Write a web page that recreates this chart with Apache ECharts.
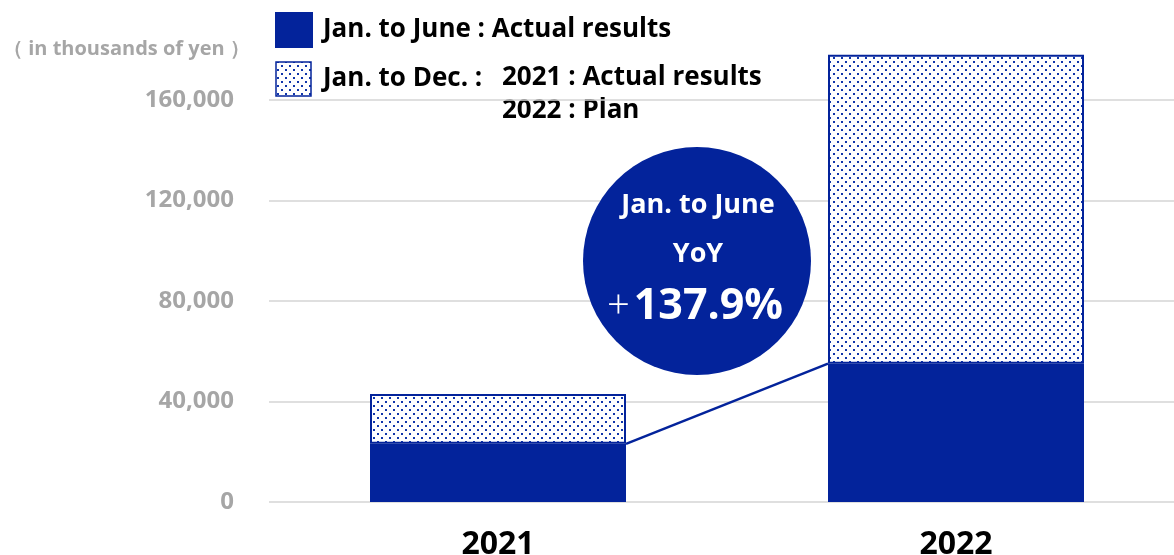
<!DOCTYPE html>
<html>
<head>
<meta charset="utf-8">
<script src="https://cdn.jsdelivr.net/npm/echarts@6/dist/echarts.min.js"></script>
<style>
  html, body { margin: 0; padding: 0; background: #fff; }
  #chart { width: 1174px; height: 555px; }
</style>
</head>
<body>
<div id="chart"></div>
<script>
// Sales, in thousands of yen
const categories = ['2021', '2022'];
const firstHalf = [23150, 55070];      // Jan. to June : actual results
const fullYear = [43000, 178000];      // Jan. to Dec. : 2021 actual, 2022 plan
const yoyLabel = '137.9%';

const remainder = fullYear.map((v, i) => v - firstHalf[i]);

const BLUE = '#03239B';
const FONT = '"Open Sans", Lato, sans-serif';
const BAR_W = 256;

// dotted fill tile
function dotPattern() {
  const c = document.createElement('canvas');
  c.width = 8; c.height = 8;
  const g = c.getContext('2d');
  g.fillStyle = '#ffffff';
  g.fillRect(0, 0, 8, 8);
  g.fillStyle = '#1035aa';
  g.fillRect(1, 1, 2, 2);
  g.fillRect(5, 5, 2, 2);
  return c;
}
const dots = { image: dotPattern(), repeat: 'repeat' };

const chart = echarts.init(document.getElementById('chart'));

chart.setOption({
  animation: false,
  grid: { left: 269, right: -11, top: 100, bottom: 53, outerBoundsMode: 'none', containLabel: false },
  xAxis: {
    type: 'category',
    data: categories,
    axisLine: { show: false },
    axisTick: { show: false },
    axisLabel: {
      color: '#000', fontSize: 32, fontWeight: 'bold', fontFamily: FONT, margin: 27
    }
  },
  yAxis: {
    type: 'value',
    min: 0,
    max: 160000,
    interval: 40000,
    axisLine: { show: false },
    axisTick: { show: false },
    axisLabel: {
      color: '#a6a6a6', fontSize: 24, fontWeight: 'bold', fontFamily: FONT, margin: 35,
      formatter: v => v.toLocaleString('en-US')
    },
    splitLine: { lineStyle: { color: '#d4d4d4', width: 1.5 } }
  },
  series: [
    {
      name: 'Jan. to June',
      type: 'bar',
      stack: 'total',
      barWidth: BAR_W,
      clip: false,
      silent: true,
      itemStyle: { color: BLUE },
      data: firstHalf
    },
    {
      name: 'Jan. to Dec.',
      type: 'bar',
      stack: 'total',
      barWidth: BAR_W,
      clip: false,
      silent: true,
      itemStyle: { color: dots, borderColor: BLUE, borderWidth: 2 },
      data: remainder
    },
    {
      // connector between the two first-half tops
      type: 'custom',
      silent: true,
      clip: false,
      data: [0],
      renderItem: (params, api) => {
        const a = api.coord([0, firstHalf[0]]);
        const b = api.coord([1, firstHalf[1]]);
        return {
          type: 'line',
          shape: { x1: a[0] + BAR_W / 2, y1: a[1], x2: b[0] - BAR_W / 2, y2: b[1] },
          style: { stroke: BLUE, lineWidth: 2.5 }
        };
      }
    }
  ],
  graphic: [
    {
      type: 'text', x: 3, y: 49,
      style: { text: '（ in thousands of yen ）', fill: '#a6a6a6', font: 'bold 20px ' + FONT, verticalAlign: 'middle' }
    },
    // legend
    { type: 'rect', shape: { x: 275, y: 12, width: 38, height: 36 }, style: { fill: BLUE } },
    {
      type: 'rect', shape: { x: 276, y: 62, width: 35, height: 34 },
      style: { fill: dots, stroke: BLUE, lineWidth: 1.5 }
    },
    {
      type: 'text', x: 323, y: 30,
      style: { text: 'Jan. to June : Actual results', fill: '#000', font: 'bold 26px ' + FONT, verticalAlign: 'middle' }
    },
    {
      type: 'text', x: 323, y: 79,
      style: { text: 'Jan. to Dec. :', fill: '#000', font: 'bold 26px ' + FONT, verticalAlign: 'middle' }
    },
    {
      type: 'text', x: 502, y: 78,
      style: { text: '2021 : Actual results', fill: '#000', font: 'bold 26px ' + FONT, verticalAlign: 'middle' }
    },
    {
      type: 'text', x: 502, y: 111,
      style: { text: '2022 : Plan', fill: '#000', font: 'bold 26px ' + FONT, verticalAlign: 'middle' }
    },
    // YoY bubble
    { type: 'circle', shape: { cx: 697, cy: 261, r: 114 }, style: { fill: BLUE }, z: 10 },
    {
      type: 'text', x: 698, y: 205, z: 11,
      style: { text: 'Jan. to June', fill: '#fff', font: 'bold 27px ' + FONT, align: 'center', verticalAlign: 'middle' }
    },
    {
      type: 'text', x: 698, y: 254, z: 11,
      style: { text: 'YoY', fill: '#fff', font: 'bold 27px ' + FONT, align: 'center', verticalAlign: 'middle' }
    },
    {
      type: 'text', x: 695, y: 307, z: 11,
      style: {
        text: '{p|+}{n|' + yoyLabel + '}',
        align: 'center', verticalAlign: 'middle',
        rich: {
          p: { fill: '#fff', fontSize: 40, fontFamily: FONT, fontWeight: 300, padding: [0, 4, 0, 0] },
          n: { fill: '#fff', fontSize: 43, fontFamily: FONT, fontWeight: 'bold' }
        }
      }
    }
  ]
});
</script>
</body>
</html>
